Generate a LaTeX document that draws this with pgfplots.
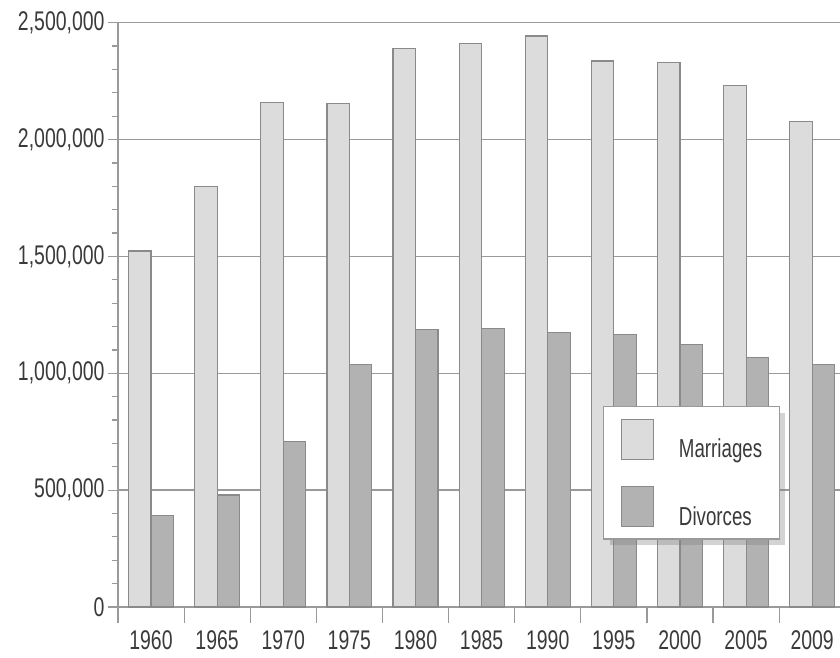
\documentclass[border=0pt]{standalone}
\usepackage{fontspec}
\setmainfont{Liberation Sans}[FakeStretch=0.72]
\usepackage{pgfplots}
\pgfplotsset{compat=1.18}
\usetikzlibrary{shadows}

\definecolor{marr}{HTML}{DCDCDC}
\definecolor{divo}{HTML}{B2B2B2}
\definecolor{edge}{HTML}{8A8A8A}
\definecolor{gridc}{HTML}{9A9A9A}
\definecolor{txt}{HTML}{3A3A3A}

\makeatletter
\tikzset{no shadow/.code={\let\tikz@preactions\pgfutil@empty}}
\makeatother

\begin{document}
\begin{tikzpicture}
\useasboundingbox (0,0) rectangle (840pt,658pt);
\begin{axis}[
  at={(118pt,51pt)}, anchor=south west,
  scale only axis, width=722pt, height=584.3pt,
  xmin=-0.5, xmax=10.42, ymin=0, ymax=2500000,
  axis lines=left,
  axis line style={-, draw=gridc, line width=1.5pt},
  ybar=0pt, bar width=0.34,
  ytick={0,500000,...,2500000},
  minor y tick num=4,
  ymajorgrids,
  grid style={draw=gridc, line width=1.5pt},
  tick align=outside,
  major tick length=10pt, minor tick length=6pt,
  tick style={draw=gridc, line width=1.2pt},
  xtick={-0.5,0.5,...,9.5},
  xtick style={/pgfplots/major tick length=16pt},
  xticklabels={1960,1965,1970,1975,1980,1985,1990,1995,2000,2005,2009},
  xticklabel style={xshift=33pt, yshift=-10pt},
  tick label style={font=\fontsize{27}{30}\selectfont, text=txt},
  /pgf/number format/assume math mode=true,
  scaled y ticks=false,
  yticklabel style={/pgf/number format/.cd, fixed, 1000 sep={,}},
  legend cell align=left,
  legend style={at={(0.672,0.344)}, anchor=north west,
    draw=gridc, line width=1.2pt, fill=white,
    inner xsep=17pt, inner ysep=12pt, row sep=26pt,
    font=\fontsize{26}{28}\selectfont, text=txt,
    nodes={inner sep=0pt},
    /tikz/every odd column/.append style={column sep=25pt},
    drop shadow={shadow xshift=6pt, shadow yshift=-6pt, opacity=0.35}},
  legend image code/.code={\draw[no shadow, #1, line width=1.2pt] (0pt,-10pt) rectangle (32pt,30pt);},
]
\addplot[fill=marr, draw=edge, line width=1.2pt] coordinates {
  (0,1523000) (1,1800000) (2,2158802) (3,2152662) (4,2390252) (5,2412625)
  (6,2443489) (7,2336000) (8,2329000) (9,2230000) (10,2077000)};
\addplot[fill=divo, draw=edge, line width=1.2pt] coordinates {
  (0,393000) (1,479000) (2,708000) (3,1036000) (4,1189000) (5,1190000)
  (6,1175000) (7,1166000) (8,1122000) (9,1066000) (10,1038000)};
\legend{Marriages, Divorces}
\end{axis}
\end{tikzpicture}
\end{document}
